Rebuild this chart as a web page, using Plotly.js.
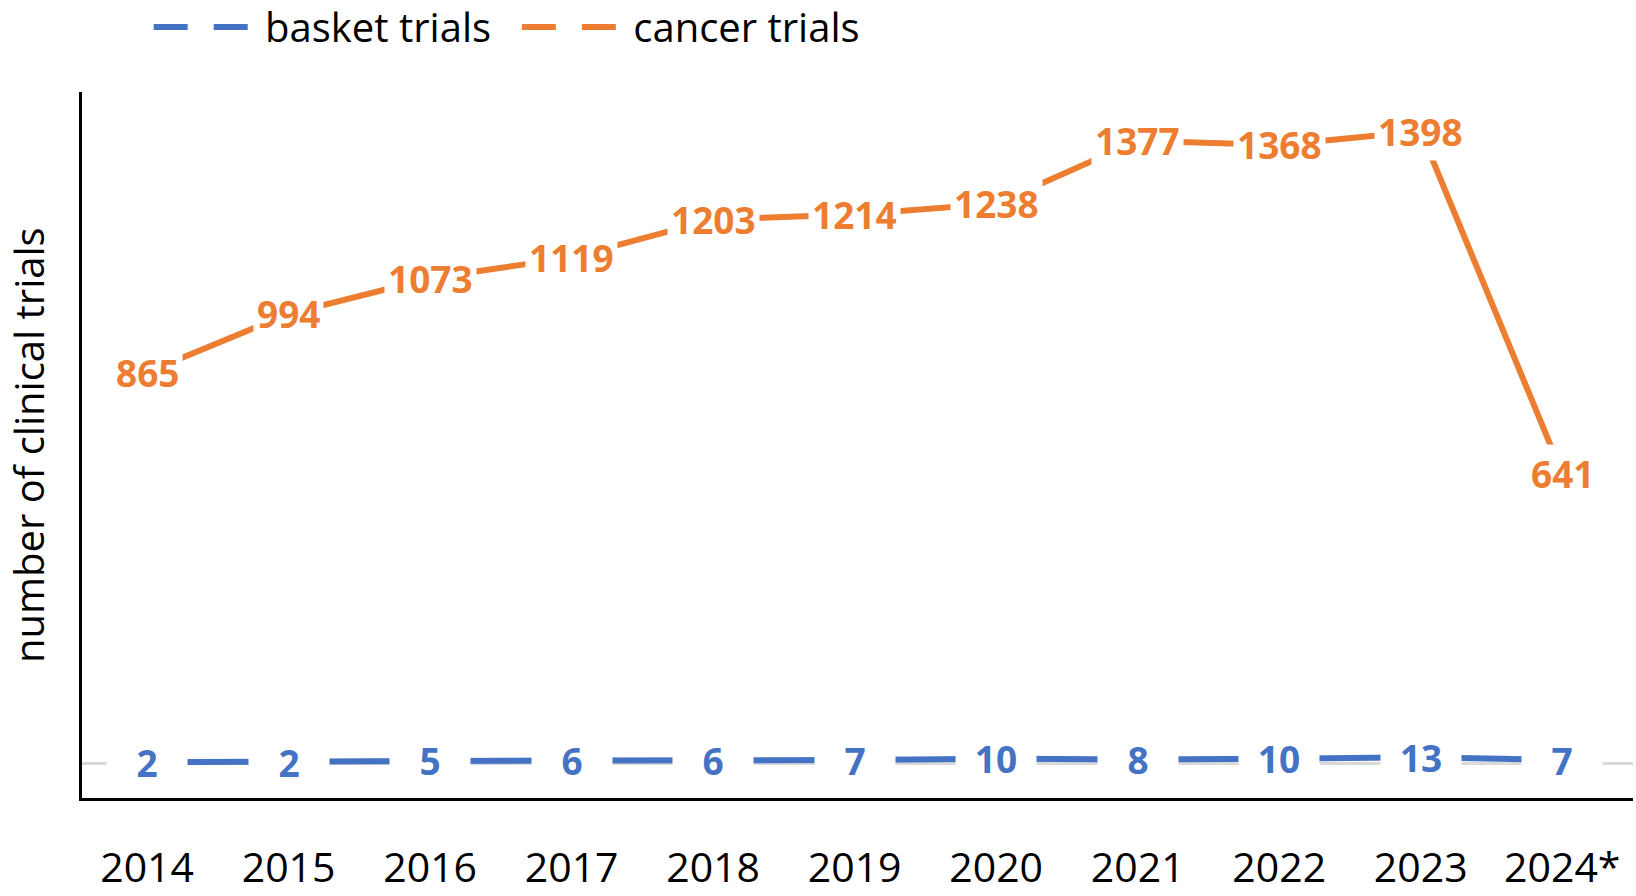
<!DOCTYPE html>
<html>
<head>
<meta charset="utf-8">
<script src="https://cdn.plot.ly/plotly-3.0.1.min.js"></script>
<style>html,body{margin:0;padding:0;background:#fff;}#chart{width:1636px;height:896px;}</style>
</head>
<body>
<div id="chart"></div>
<script>
const years = ['2014','2015','2016','2017','2018','2019','2020','2021','2022','2023','2024*'];
const basketTrials = [2,2,5,6,6,7,10,8,10,13,7];
const cancerTrials = [865,994,1073,1119,1203,1214,1238,1377,1368,1398,641];
const seriesNames = ['basket trials','cancer trials'];
const yAxisTitle = 'number of clinical trials';

const BLUE = '#4472C4', ORANGE = '#ED7D31';
const FONT = 'Open Sans, Noto Sans, sans-serif';
const NB = '\u00a0';

const traces = [
  {x: years, y: basketTrials, mode: 'lines', line: {color: BLUE, width: 6}, showlegend: false, hoverinfo: 'skip'},
  {x: years, y: cancerTrials, mode: 'lines', line: {color: ORANGE, width: 6}, showlegend: false, hoverinfo: 'skip'},
  {x: [null], y: [null], mode: 'lines', name: NB + seriesNames[0] + NB + NB, line: {color: BLUE, width: 6, dash: '34px,26px'}},
  {x: [null], y: [null], mode: 'lines', name: NB + seriesNames[1], line: {color: ORANGE, width: 6, dash: '34px,26px'}}
];

// annotations positioned by category index (numeric-looking category names would be misread)
const annotations = [];
years.forEach((yr, i) => {
  annotations.push({x: i, y: cancerTrials[i], text: String(cancerTrials[i]), showarrow: false,
    bgcolor: 'white', borderpad: 3, font: {family: FONT, size: 37, color: ORANGE, weight: 'bold'}});
  annotations.push({x: i, y: basketTrials[i], text: String(basketTrials[i]), showarrow: false,
    bgcolor: 'white', borderpad: 0, width: 80, align: 'center',
    font: {family: FONT, size: 37, color: BLUE, weight: 'bold'}});
});
// y-axis title
annotations.push({xref: 'paper', yref: 'paper', x: 0, y: 0.5, xanchor: 'center', yanchor: 'middle',
  xshift: -54, textangle: -90, text: yAxisTitle, showarrow: false,
  font: {family: FONT, size: 40, color: '#000'}});

const layout = {
  width: 1636, height: 896,
  margin: {l: 82, r: 3, t: 92, b: 98, autoexpand: false},
  paper_bgcolor: 'white', plot_bgcolor: 'white',
  font: {family: FONT, color: '#000'},
  showlegend: true,
  legend: {orientation: 'h', x: 0.043, xanchor: 'left', yref: 'container', y: 0.97, yanchor: 'middle',
    font: {family: FONT, size: 40, color: '#000'}, itemwidth: 96, traceorder: 'normal'},
  xaxis: {type: 'category', range: [-0.46, 10.5], showline: true, linecolor: '#000', linewidth: 3,
    showgrid: false, zeroline: false, ticks: '', ticklabelstandoff: 32,
    tickfont: {family: FONT, size: 41, color: '#000'}},
  yaxis: {range: [-77, 1485], showline: true, linecolor: '#000', linewidth: 3, showgrid: false,
    zeroline: true, zerolinecolor: '#d9d9d9', zerolinewidth: 3, showticklabels: false, ticks: ''},
  annotations: annotations
};

Plotly.newPlot('chart', traces, layout, {displayModeBar: false, staticPlot: true});
</script>
</body>
</html>
